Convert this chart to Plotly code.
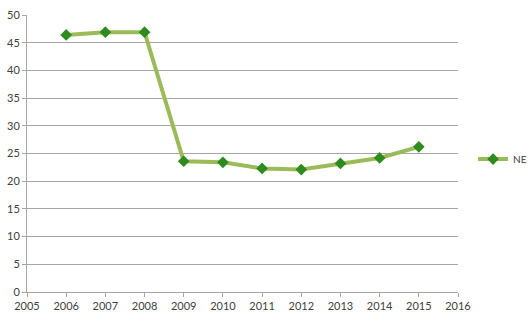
import plotly.graph_objects as go

years = [2006, 2007, 2008, 2009, 2010, 2011, 2012, 2013, 2014, 2015]
ne_values = [46.4, 46.9, 46.9, 23.6, 23.4, 22.3, 22.1, 23.2, 24.2, 26.2]
series_name = "NE"

fig = go.Figure()
fig.add_trace(go.Scatter(
    x=years, y=ne_values, name=series_name, mode="lines+markers",
    line=dict(color="#9BBB59", width=4),
    marker=dict(symbol="diamond", size=9, color="#2E8B1E",
                line=dict(color="#2E8B1E", width=0)),
))

axis_font = dict(family="Lato, Open Sans, sans-serif", size=11, color="#404040")
fig.update_layout(
    width=531, height=322,
    margin=dict(l=27, r=73, t=15, b=30, autoexpand=False),
    plot_bgcolor="white", paper_bgcolor="white",
    showlegend=True,
    legend=dict(x=1.035, y=0.48, xanchor="left", yanchor="middle",
                font=dict(family="Lato, sans-serif", size=10, color="#404040"),
                itemwidth=30, bgcolor="rgba(0,0,0,0)",
                tracegroupgap=0),
    xaxis=dict(range=[2005, 2016], dtick=1, tick0=2005, showgrid=False,
               showline=True, linecolor="#A6A6A6", linewidth=1,
               ticks="outside", ticklen=4, tickcolor="#A6A6A6",
               tickfont=axis_font, zeroline=False, fixedrange=True),
    yaxis=dict(range=[0, 50], dtick=5, showgrid=True, gridcolor="#A6A6A6",
               gridwidth=1, showline=True, linecolor="#A6A6A6", linewidth=1,
               ticks="outside", ticklen=4, tickcolor="#A6A6A6",
               tickfont=axis_font, zeroline=False),
)

fig.write_html("out.html")
